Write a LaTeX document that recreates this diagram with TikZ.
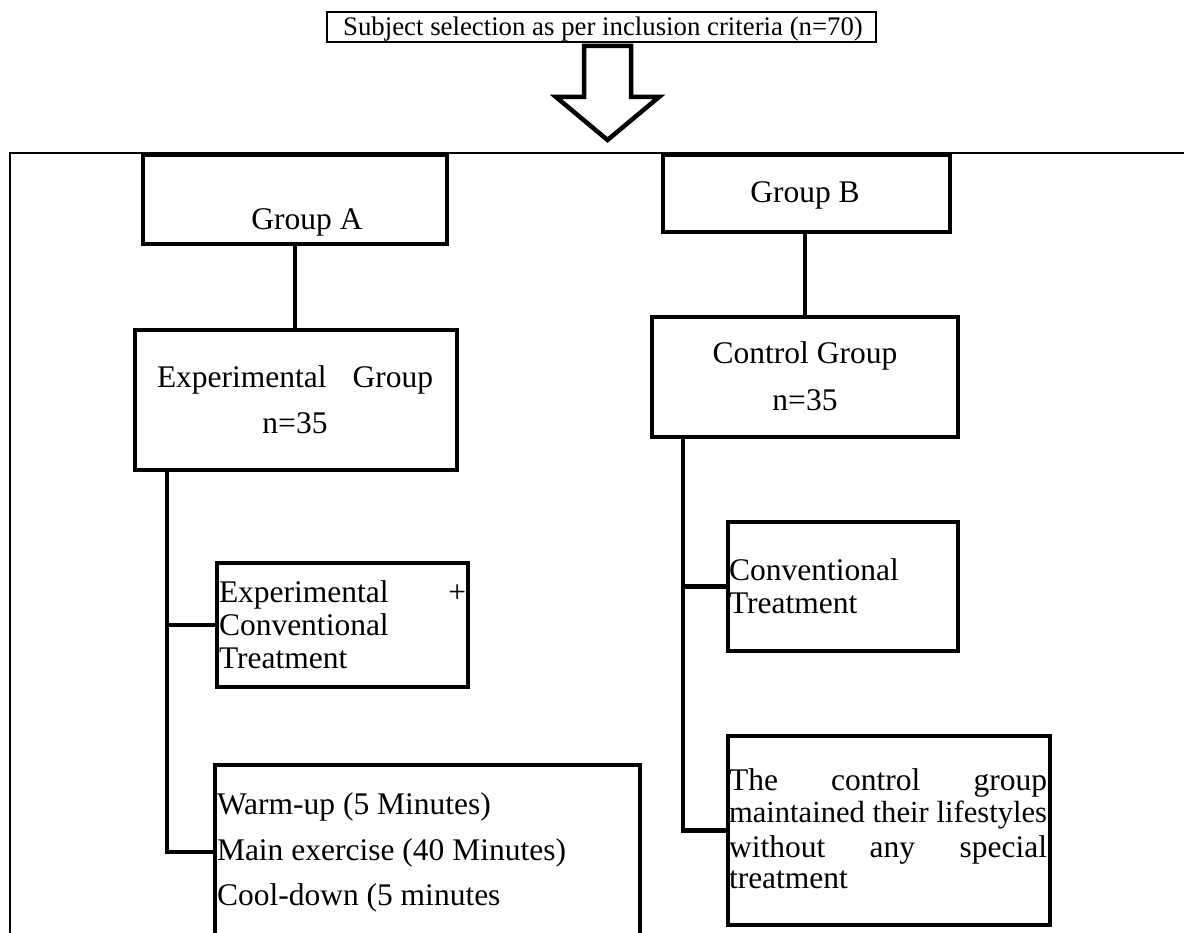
\documentclass[tikz,border=0pt]{standalone}
\usepackage{fontspec}
\setmainfont{Liberation Serif}
\begin{document}
\begin{tikzpicture}[x=1pt,y=-1pt,
  every node/.style={inner sep=0pt, outer sep=0pt},
  box/.style={draw, line width=4.5pt, rectangle},
  thinbox/.style={draw, line width=2pt, rectangle},
  conn/.style={line width=4.5pt},
  frameline/.style={line width=2pt},
  txt/.style={font=\fontsize{31.5}{36}\selectfont, anchor=base},
  txtl/.style={font=\fontsize{31.5}{36}\selectfont, anchor=base west},
  toptxt/.style={font=\fontsize{26.8}{32}\selectfont, anchor=base}]
\useasboundingbox (0,0) rectangle (1184,933);
\clip (0,0) rectangle (1184,933);

% top box and block arrow
\node[thinbox, minimum width=549pt, minimum height=30pt] (top) at (601.5,27) {};
\node[toptxt] (toptext) at (603,36) {Subject selection as per inclusion criteria (n=70)};
\draw[line width=4.5pt, line join=miter]
  (584,46) -- (631,46) -- (631,97) -- (659,97) -- (607.5,140)
  -- (556,97) -- (584,97) -- cycle;

% outer frame
\draw[frameline] (10,960) -- (10,153) -- (1200,153);

% Group A branch
\node[box, minimum width=304pt, minimum height=89pt] (grpA) at (295,199.5) {};
\node[txt] (grpAt) at (307,230) {Group A};
\node[box, minimum width=322pt, minimum height=140pt] (expG) at (296,400) {};
\node[txt] (expGt1) at (295,388) {\makebox[276pt][s]{Experimental Group}};
\node[txt] (expGt2) at (295,433) {n=35};
\draw[conn] (grpA.south) -- (grpA.south |- expG.north);

\node[box, minimum width=251pt, minimum height=124pt] (expC) at (342.5,625) {};
\node[txtl] (expCt1) at (219,602) {\makebox[247pt][s]{Experimental +}};
\node[txtl] (expCt2) at (219,635) {Conventional};
\node[txtl] (expCt3) at (219,668) {Treatment};

\node[box, minimum width=425pt, minimum height=195pt] (warm) at (427.5,862.5) {};
\node[txtl] (warm1) at (217,814) {Warm-up (5 Minutes)};
\node[txtl] (warm2) at (217,860) {Main exercise (40 Minutes)};
\node[txtl] (warm3) at (217,905) {Cool-down (5 minutes};

\coordinate (sA) at (167,470);
\coordinate (jA) at (167,852);
\draw[conn] (sA) -- (jA) -- (jA -| warm.west);
\draw[conn] (sA |- expC.west) -- (expC.west);

% Group B branch
\node[box, minimum width=287pt, minimum height=77pt] (grpB) at (806.5,193.5) {};
\node[txt] (grpBt) at (805,203) {Group B};
\node[box, minimum width=306pt, minimum height=120pt] (ctlG) at (805,377) {};
\node[txt] (ctlGt1) at (805,363) {Control Group};
\node[txt] (ctlGt2) at (805,410) {n=35};
\draw[conn] (grpB.south -| ctlG.north) -- (ctlG.north);

\node[box, minimum width=230pt, minimum height=129pt] (convT) at (843,586.5) {};
\node[txtl] (convT1) at (729,580) {Conventional};
\node[txtl] (convT2) at (729,613) {Treatment};

\node[box, minimum width=322pt, minimum height=189pt] (ctlT) at (889,830.5) {};
\node[txtl] (ctlT1) at (729,790) {\makebox[318pt][s]{The control group}};
\node[txtl, font=\fontsize{30.6}{36}\selectfont] (ctlT2) at (729,822) {\makebox[318pt][s]{maintained their lifestyles}};
\node[txtl] (ctlT3) at (729,857) {\makebox[318pt][s]{without any special}};
\node[txtl] (ctlT4) at (729,888) {treatment};

\coordinate (sB) at (683,437);
\draw[conn] (sB) -- (sB |- ctlT.west) -- (ctlT.west);
\draw[conn] (sB |- convT.west) -- (convT.west);
\end{tikzpicture}
\end{document}
